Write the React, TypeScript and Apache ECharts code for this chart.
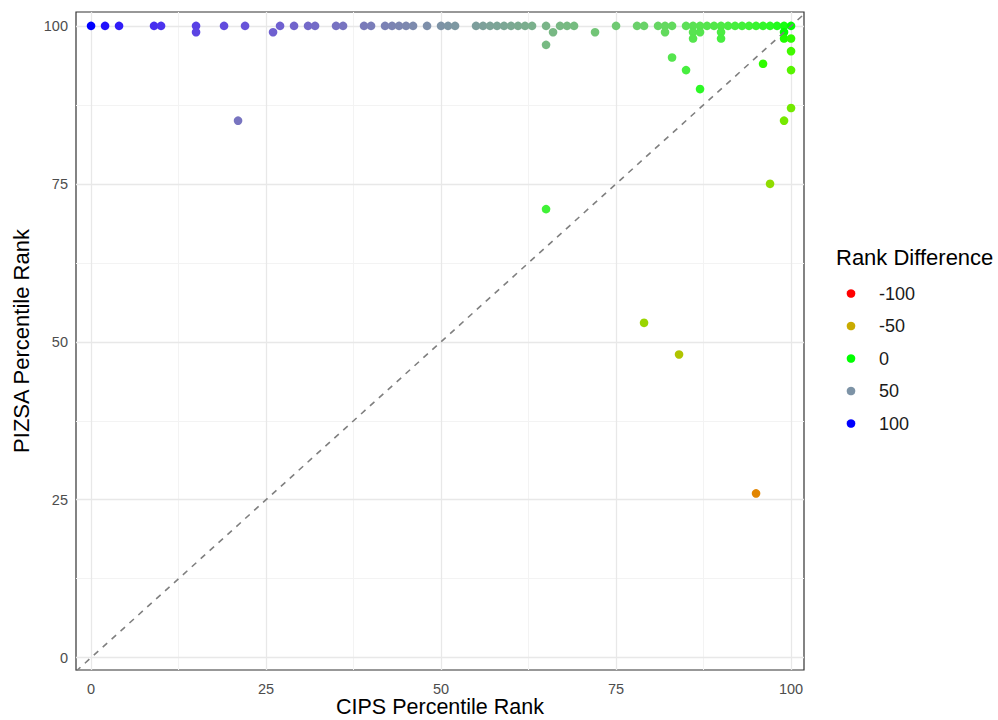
import React, { useEffect, useRef } from "react";
import * as echarts from "echarts";

// CIPS percentile rank (x) and PIZSA percentile rank (y), one entry per point
const cipsRank = [
  0, 2, 4, 9, 10, 15, 19, 22, 27, 29, 31, 32, 35, 36, 39, 40, 42, 43, 44, 45,
  46, 48, 50, 51, 52, 55, 56, 57, 58, 59, 60, 61, 62, 63, 65, 67, 68, 69, 75, 78,
  79, 81, 82, 83, 85, 86, 87, 88, 89, 90, 91, 92, 93, 94, 95, 96, 97, 98, 99, 100,
  15, 21, 26, 65, 65, 66, 72, 82, 83, 85, 86, 86, 87, 87, 90, 90, 96, 97, 99, 99,
  100, 100, 100, 100, 99, 79, 84, 95,
];
const pizsaRank = [
  100, 100, 100, 100, 100, 100, 100, 100, 100, 100, 100, 100, 100, 100, 100, 100, 100, 100, 100, 100,
  100, 100, 100, 100, 100, 100, 100, 100, 100, 100, 100, 100, 100, 100, 100, 100, 100, 100, 100, 100,
  100, 100, 100, 100, 100, 100, 100, 100, 100, 100, 100, 100, 100, 100, 100, 100, 100, 100, 100, 100,
  99, 85, 99, 97, 71, 99, 99, 99, 95, 93, 99, 98, 99, 90, 99, 98, 94, 75, 99, 98,
  98, 96, 93, 87, 85, 53, 48, 26,
];

const majorTicks = [0, 25, 50, 75, 100];
const minorTicks = [12.5, 37.5, 62.5, 87.5];
const legendBreaks = [-100, -50, 0, 50, 100];
const gradientColors = ["#FF0000", "#00FF00", "#0000FF"]; // low, mid, high

// ---- Lab colour interpolation (as in ggplot2's scale_colour_gradient2) ----
const Xn = 0.95047, Yn = 1.0, Zn = 1.08883;
function toLab(hex: string): number[] {
  const rgb = [1, 3, 5].map((i) => parseInt(hex.slice(i, i + 2), 16) / 255);
  const [r, g, b] = rgb.map((c) => (c <= 0.04045 ? c / 12.92 : Math.pow((c + 0.055) / 1.055, 2.4)));
  const X = 0.4124564 * r + 0.3575761 * g + 0.1804375 * b;
  const Y = 0.2126729 * r + 0.7151522 * g + 0.072175 * b;
  const Z = 0.0193339 * r + 0.119192 * g + 0.9503041 * b;
  const f = (t: number) => (t > 0.008856 ? Math.cbrt(t) : 7.787 * t + 16 / 116);
  const fx = f(X / Xn), fy = f(Y / Yn), fz = f(Z / Zn);
  return [116 * fy - 16, 500 * (fx - fy), 200 * (fy - fz)];
}
function fromLab(lab: number[]): string {
  const [L, a, bb] = lab;
  const fy = (L + 16) / 116;
  const fx = fy + a / 500;
  const fz = fy - bb / 200;
  const inv = (t: number) => (t * t * t > 0.008856 ? t * t * t : (t - 16 / 116) / 7.787);
  const X = Xn * inv(fx), Y = Yn * inv(fy), Z = Zn * inv(fz);
  const lin = [
    3.2404542 * X - 1.5371385 * Y - 0.4985314 * Z,
    -0.969266 * X + 1.8760108 * Y + 0.041556 * Z,
    0.0556434 * X - 0.2040259 * Y + 1.0572252 * Z,
  ];
  const out = lin.map((c) => {
    const v = c <= 0.0031308 ? 12.92 * c : 1.055 * Math.pow(c, 1 / 2.4) - 0.055;
    const n = Math.round(Math.min(1, Math.max(0, v)) * 255);
    return n.toString(16).padStart(2, "0");
  });
  return "#" + out.join("");
}
const labStops = gradientColors.map(toLab);
function diffColor(d: number): string {
  const t = Math.min(1, Math.max(0, 0.5 + d / 200));
  const seg = t < 0.5 ? 0 : 1;
  const lt = t < 0.5 ? t / 0.5 : (t - 0.5) / 0.5;
  const A = labStops[seg], B = labStops[seg + 1];
  return fromLab(A.map((v, i) => v + (B[i] - v) * lt));
}

const FONT = "'Liberation Sans', Arial, Helvetica, sans-serif";

export default function App() {
  const ref = useRef<HTMLDivElement>(null);
  useEffect(() => {
    if (!ref.current) return;
    const chart = echarts.init(ref.current, undefined, { renderer: "svg" });
    const xMin = -2.15, xMax = 101.85, yMin = -1.95, yMax = 102.2;
    const points = cipsRank.map((x, i) => [x, pizsaRank[i], pizsaRank[i] - x]);

    const legendX = 836, legendTitleY = 246, legendFirstY = 293.5, legendStep = 32.5;
    const graphic: any[] = [
      {
        type: "text",
        left: legendX,
        top: legendTitleY,
        style: { text: "Rank Difference", fontSize: 22, fontFamily: FONT, fill: "#000" },
      },
    ];
    legendBreaks.forEach((b, i) => {
      graphic.push({
        type: "circle",
        shape: { cx: 851, cy: legendFirstY + i * legendStep, r: 4.3 },
        style: { fill: diffColor(b) },
      });
      graphic.push({
        type: "text",
        x: 879,
        y: legendFirstY + i * legendStep,
        style: {
          text: String(b),
          fontSize: 18,
          fontFamily: FONT,
          fill: "#1a1a1a",
          verticalAlign: "middle",
          align: "left",
        },
      });
    });

    const gridLine = (ticks: number[], color: string, width: number) => ({
      silent: true,
      z: 1,
      symbol: ["none", "none"],
      label: { show: false },
      emphasis: { disabled: true },
      lineStyle: { color, width, type: "solid" },
      data: [...ticks.map((v) => ({ xAxis: v })), ...ticks.map((v) => ({ yAxis: v }))],
    });

    const option: any = {
      animation: false,
      backgroundColor: "#ffffff",
      textStyle: { fontFamily: FONT },
      grid: {
        left: 76,
        right: 194,
        top: 12,
        bottom: 50,
        show: true,
        borderColor: "#333333",
        borderWidth: 1.2,
        backgroundColor: "#ffffff",
        outerBoundsMode: "none",
        containLabel: false,
        z: 0,
      },
      xAxis: {
        type: "value",
        min: xMin,
        max: xMax,
        axisLine: { show: false },
        axisTick: { show: false },
        splitLine: { show: false },
        axisLabel: {
          customValues: majorTicks,
          color: "#4d4d4d",
          fontSize: 14.5,
          margin: 11,
          fontFamily: FONT,
        },
        name: "CIPS Percentile Rank",
        nameLocation: "middle",
        nameGap: 26,
        nameMoveOverlap: false,
        nameTextStyle: { fontSize: 21.5, color: "#000", fontFamily: FONT },
      },
      yAxis: {
        type: "value",
        min: yMin,
        max: yMax,
        axisLine: { show: false },
        axisTick: { show: false },
        splitLine: { show: false },
        axisLabel: {
          customValues: majorTicks,
          color: "#4d4d4d",
          fontSize: 14.5,
          margin: 8,
          fontFamily: FONT,
        },
        name: "PIZSA Percentile Rank",
        nameLocation: "middle",
        nameGap: 44,
        nameTextStyle: { fontSize: 22, color: "#000", fontFamily: FONT },
      },
      graphic,
      series: [
        {
          type: "scatter",
          data: [],
          z: 1,
          silent: true,
          markLine: gridLine(minorTicks, "#f3f3f3", 1),
        },
        {
          type: "scatter",
          data: [],
          z: 1,
          silent: true,
          markLine: gridLine(majorTicks, "#e8e8e8", 1.3),
        },
        {
          type: "scatter",
          data: points,
          z: 3,
          symbol: "circle",
          symbolSize: 8.6,
          itemStyle: {
            opacity: 1,
            color: (p: any) => diffColor(p.value[2]),
          },
        },
        {
          type: "line",
          data: [
            [Math.min(xMin, yMin), Math.min(xMin, yMin)],
            [Math.max(xMax, yMax), Math.max(xMax, yMax)],
          ],
          clip: true,
          z: 4,
          symbol: "none",
          silent: true,
          lineStyle: { color: "#7f7f7f", width: 1.6, type: [6, 6] },
        },
      ],
    };
    chart.setOption(option);
    return () => chart.dispose();
  }, []);
  return (
    <div
      ref={ref}
      style={{ position: "fixed", left: 0, top: 0, width: 998, height: 720, background: "#fff" }}
    />
  );
}
